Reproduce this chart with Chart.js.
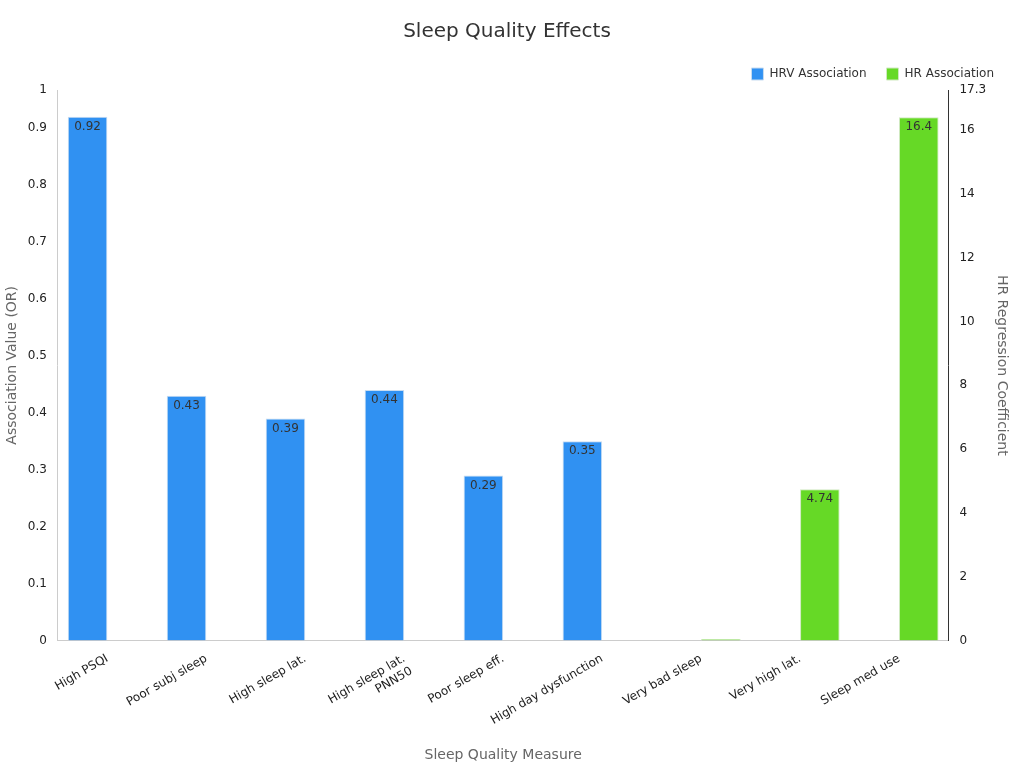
<!DOCTYPE html>
<html><head><meta charset="utf-8">
<script src="https://cdn.jsdelivr.net/npm/chart.js@4/dist/chart.umd.min.js"></script>
<style>html,body{margin:0;background:#fff}#w{width:1024px;height:768px}</style>
</head><body><div id="w"><canvas id="c"></canvas></div>
<script>
const categories = ["High PSQI","Poor subj sleep","High sleep lat.",["High sleep lat.","PNN50"],"Poor sleep eff.","High day dysfunction","Very bad sleep","Very high lat.","Sleep med use"];
const hrvValues = [0.92,0.43,0.39,0.44,0.29,0.35,null,null,null];
const hrValues = [null,null,null,null,null,null,0.05,4.74,16.4];
const labelPlugin = {
  id:'lbl',
  afterDatasetsDraw(chart){
    const ctx=chart.ctx;
    chart.data.datasets.forEach((ds,i)=>{
      chart.getDatasetMeta(i).data.forEach((el,j)=>{
        const v=ds.data[j];
        if(v==null||(i===1&&v<1))return;
        ctx.save();ctx.fillStyle='#333';ctx.font='12px "DejaVu Sans"';ctx.textAlign='center';ctx.textBaseline='top';
        ctx.fillText(String(v),el.x,el.y+4);ctx.restore();
      });
    });
  }
};
Chart.defaults.font.family='"DejaVu Sans"';
new Chart(document.getElementById('c'),{
  type:'bar',
  data:{labels:categories,datasets:[
    {label:'HRV Association',data:hrvValues,backgroundColor:'#3091F2',borderColor:'#c8dcf0',borderWidth:1,yAxisID:'y',categoryPercentage:0.8,barPercentage:1},
    {label:'HR Association',data:hrValues,backgroundColor:'#66D926',borderColor:'#cfe9c0',borderWidth:1,yAxisID:'y1',categoryPercentage:0.8,barPercentage:1}
  ]},
  plugins:[labelPlugin],
  options:{
    responsive:true,maintainAspectRatio:false,animation:false,
    layout:{padding:{left:0,right:10,top:0,bottom:0}},
    plugins:{
      title:{display:true,text:'Sleep Quality Effects',font:{size:20,weight:'normal'},color:'#333',padding:{top:20,bottom:4}},
      legend:{position:'top',align:'end',labels:{boxWidth:12,boxHeight:12,font:{size:12},color:'#333',padding:20}},
      tooltip:{enabled:false}
    },
    scales:{
      x:{grid:{display:false,drawTicks:true},border:{color:'#ccc'},ticks:{color:'#222',font:{size:12},maxRotation:30,minRotation:30},
         title:{display:true,text:'Sleep Quality Measure',color:'#666',font:{size:14}}},
      y:{position:'left',min:0,max:0.967,grid:{display:false},border:{color:'#ccc'},ticks:{stepSize:0.1,color:'#222',font:{size:12},callback:v=>Math.round(v*10)/10===0?'0':(Math.round(v*10)/10).toString()},
         title:{display:true,text:'Association Value (OR)',color:'#666',font:{size:14}}},
      y1:{position:'right',min:0,max:17.25,grid:{display:false},border:{color:'#333'},ticks:{stepSize:2,color:'#222',font:{size:12}},
         title:{display:true,text:'HR Regression Coefficient',color:'#666',font:{size:14}}}
    }
  }
});
</script></body></html>
